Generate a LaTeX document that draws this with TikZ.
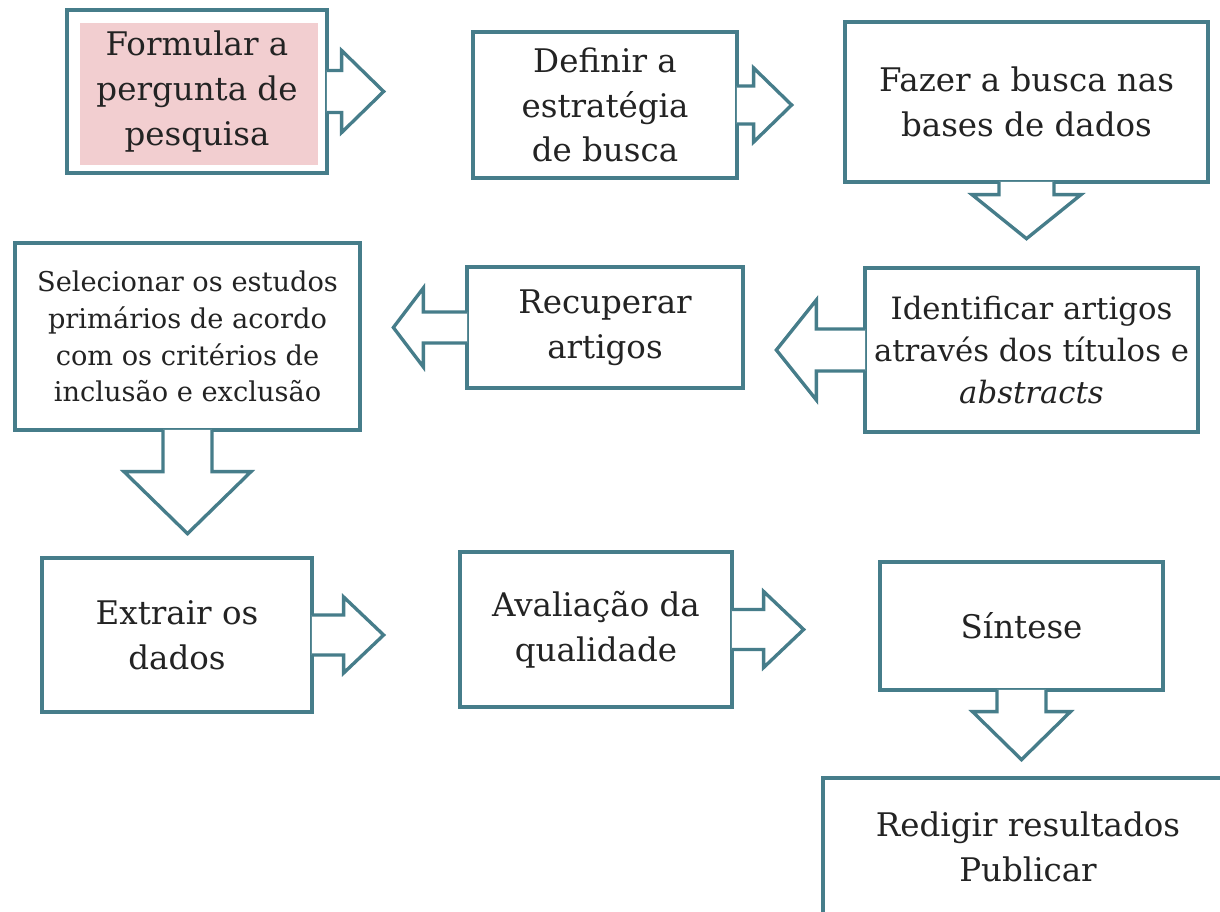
\documentclass[tikz,border=0pt]{standalone}
\usepackage{xcolor}
\definecolor{tealline}{RGB}{70, 125, 138}
\definecolor{pinkfill}{RGB}{242, 206, 208}
\definecolor{inkgray}{RGB}{35, 35, 35}
\usepackage{fontspec}
\setmainfont{DejaVu Serif}
\usepackage{tikz}
\usetikzlibrary{positioning, calc}
\tikzset{
  stepbox/.style={draw=tealline, line width=1.9pt, fill=white,
    align=center, inner sep=2pt, text=inkgray,
    font=\fontsize{18.5}{25.5}\selectfont},
  smallstep/.style={stepbox, font=\fontsize{15.5}{21}\selectfont},
  midstep/.style={stepbox, font=\fontsize{17.5}{24}\selectfont},
  pinkstep/.style={stepbox, path picture={
      \fill[pinkfill] ([shift={(13,13)}]path picture bounding box.north west)
        rectangle ([shift={(-9,-8)}]path picture bounding box.south east);}},
  callout/.style={draw=tealline, fill=white, line width=1.9pt, line join=miter}
}

\begin{document}
\begin{tikzpicture}[x=0.02cm, y=-0.02cm]

  \clip (0,0) rectangle (1220,912);
  \fill[white] (0,0) rectangle (1220,912);

  %% Top row
  \node[pinkstep, minimum width=5.2cm, minimum height=3.26cm] (formular) at (197,91.5)
    {Formular a\\pergunta de\\pesquisa};
  \node[stepbox, minimum width=5.28cm, minimum height=2.92cm] (definir) at (605,105)
    {Definir a\\estratégia\\de busca};
  \node[stepbox, minimum width=7.26cm, minimum height=3.2cm] (fazer) at (1026.5,102)
    {Fazer a busca nas\\bases de dados};

  %% Middle row
  \node[midstep, minimum width=6.66cm, minimum height=3.28cm] (identificar) at (1031.5,350)
    {Identificar artigos\\através dos títulos e\\\textit{abstracts}};
  \node[stepbox, minimum width=5.52cm, minimum height=2.42cm] (recuperar) at (605,327.5)
    {Recuperar\\artigos};
  \node[smallstep, minimum width=6.9cm, minimum height=3.74cm] (selecionar) at (187.5,336.5)
    {Selecionar os estudos\\primários de acordo\\com os critérios de\\inclusão e exclusão};

  %% Bottom row
  \node[stepbox, minimum width=5.4cm, minimum height=3.08cm] (extrair) at (177,635)
    {Extrair os\\dados};
  \node[stepbox, minimum width=5.44cm, minimum height=3.1cm] (avaliacao) at (596,629.5)
    {Avaliação da\\qualidade};
  \node[stepbox, minimum width=5.66cm, minimum height=2.56cm] (sintese) at (1021.5,626)
    {Síntese};
  \node[stepbox, minimum width=8.2cm, minimum height=2.74cm] (redigir) at (1028,846.5)
    {Redigir resultados\\Publicar};

  %% Callout arrows
  \draw[callout, shift={(formular.east)}]
    (-1.7,21) -- (13,21) -- (13,41) -- (55,0) -- (13,-41) -- (13,-21) -- (-1.7,-21);
  \draw[callout, shift={(definir.east)}]
    (-1.7,19) -- (15,19) -- (15,37) -- (53,0) -- (15,-37) -- (15,-19) -- (-1.7,-19);
  \draw[callout, shift={(fazer.south)}, rotate=-90]
    (-1.7,27.5) -- (11,27.5) -- (11,54.5) -- (55,0) -- (11,-54.5) -- (11,-27.5) -- (-1.7,-27.5);
  \draw[callout, shift={(identificar.west)}, rotate=180]
    (-1.7,21) -- (47,21) -- (47,50) -- (87,0) -- (47,-50) -- (47,-21) -- (-1.7,-21);
  \draw[callout, shift={(recuperar.west)}, rotate=180]
    (-1.7,15.5) -- (42,15.5) -- (42,39.5) -- (72,0) -- (42,-39.5) -- (42,-15.5) -- (-1.7,-15.5);
  \draw[callout, shift={(selecionar.south)}, rotate=-90]
    (-1.7,24.5) -- (40,24.5) -- (40,63.5) -- (102,0) -- (40,-63.5) -- (40,-24.5) -- (-1.7,-24.5);
  \draw[callout, shift={(extrair.east)}]
    (-1.7,20) -- (30,20) -- (30,38) -- (70,0) -- (30,-38) -- (30,-20) -- (-1.7,-20);
  \draw[callout, shift={(avaliacao.east)}]
    (-1.7,20) -- (30,20) -- (30,38) -- (70,0) -- (30,-38) -- (30,-20) -- (-1.7,-20);
  \draw[callout, shift={(sintese.south)}, rotate=-90]
    (-1.7,24.5) -- (20,24.5) -- (20,49) -- (68,0) -- (20,-49) -- (20,-24.5) -- (-1.7,-24.5);

\end{tikzpicture}
\end{document}
